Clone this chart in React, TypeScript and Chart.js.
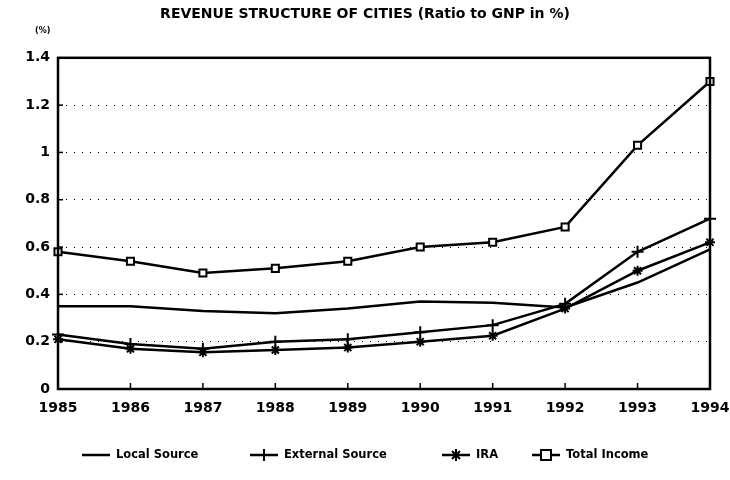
import React, { useEffect, useRef } from "react";
import { Chart, registerables } from "chart.js";

Chart.register(...registerables);

const years = ["1985", "1986", "1987", "1988", "1989", "1990", "1991", "1992", "1993", "1994"];
const localSource = [0.35, 0.35, 0.33, 0.32, 0.34, 0.37, 0.365, 0.345, 0.45, 0.59];
const externalSource = [0.23, 0.19, 0.17, 0.2, 0.21, 0.24, 0.27, 0.36, 0.58, 0.72];
const ira = [0.21, 0.17, 0.155, 0.165, 0.175, 0.2, 0.225, 0.34, 0.5, 0.62];
const totalIncome = [0.58, 0.54, 0.49, 0.51, 0.54, 0.6, 0.62, 0.685, 1.03, 1.3];
const yTicks = [0, 0.2, 0.4, 0.6, 0.8, 1, 1.2, 1.4];
const seriesNames = ["Local Source", "External Source", "IRA", "Total Income"];
const markerStyles: (string | false)[] = [false, "cross", "star", "rect"];

const FONT = "'DejaVu Sans', 'Liberation Sans', Arial, sans-serif";

function drawMarker(ctx: CanvasRenderingContext2D, style: string | false, x: number, y: number) {
  ctx.lineWidth = 2;
  if (style === "cross" || style === "star") {
    ctx.beginPath();
    ctx.moveTo(x, y - 6);
    ctx.lineTo(x, y + 6);
    ctx.stroke();
  }
  if (style === "star") {
    ctx.beginPath();
    ctx.moveTo(x - 4, y - 4);
    ctx.lineTo(x + 4, y + 4);
    ctx.moveTo(x + 4, y - 4);
    ctx.lineTo(x - 4, y + 4);
    ctx.stroke();
  }
  if (style === "rect") {
    ctx.fillStyle = "#fff";
    ctx.fillRect(x - 5, y - 5, 10, 10);
    ctx.strokeRect(x - 5, y - 5, 10, 10);
  }
}

const frame = {
  id: "frame",
  afterDraw(chart: any) {
    const { ctx, chartArea } = chart;
    const xs = chart.scales.x;
    const ys = chart.scales.y;
    ctx.save();
    ctx.strokeStyle = "#000";
    ctx.lineWidth = 2.5;
    ctx.strokeRect(chartArea.left, chartArea.top, chartArea.right - chartArea.left, chartArea.bottom - chartArea.top);
    ctx.lineWidth = 1.5;
    for (let i = 1; i < years.length - 1; i++) {
      const px = xs.getPixelForValue(i);
      ctx.beginPath();
      ctx.moveTo(px, chartArea.bottom);
      ctx.lineTo(px, chartArea.bottom - 6);
      ctx.stroke();
    }
    for (let i = 1; i < yTicks.length - 1; i++) {
      const py = ys.getPixelForValue(yTicks[i]);
      ctx.beginPath();
      ctx.moveTo(chartArea.left, py);
      ctx.lineTo(chartArea.left + 5, py);
      ctx.stroke();
    }
    ctx.fillStyle = "#000";
    ctx.font = "bold 8px " + FONT;
    ctx.textAlign = "left";
    ctx.textBaseline = "middle";
    ctx.fillText("(%)", chartArea.left - 23, chartArea.top - 27);

    // legend
    const legendX = [82, 250, 442, 532];
    const ly = 455;
    ctx.font = "bold 11.5px " + FONT;
    for (let i = 0; i < seriesNames.length; i++) {
      const x0 = legendX[i];
      ctx.strokeStyle = "#000";
      ctx.lineWidth = 2.5;
      ctx.beginPath();
      ctx.moveTo(x0, ly);
      ctx.lineTo(x0 + 28, ly);
      ctx.stroke();
      drawMarker(ctx, markerStyles[i], x0 + 14, ly);
      ctx.fillStyle = "#000";
      ctx.fillText(seriesNames[i], x0 + 34, ly);
    }
    ctx.restore();
  },
};

export default function App() {
  const ref = useRef<HTMLCanvasElement>(null);
  useEffect(() => {
    const seriesData = [localSource, externalSource, ira, totalIncome];
    const chart = new Chart(ref.current!, {
      type: "line",
      data: {
        labels: years,
        datasets: seriesNames.map((name, i) => ({
          label: name,
          data: seriesData[i],
          borderColor: "#000",
          backgroundColor: "#000",
          borderWidth: 2.5,
          pointBorderWidth: 2,
          pointStyle: (markerStyles[i] || false) as any,
          pointRadius: i === 0 ? 0 : i === 1 ? 6 : 5,
          pointBackgroundColor: i === 3 ? "#fff" : "#000",
          tension: 0,
        })),
      },
      options: {
        animation: false,
        responsive: true,
        maintainAspectRatio: false,
        layout: { padding: { left: 0, right: 0, top: 0, bottom: 0 } },
        plugins: {
          title: {
            display: true,
            text: "REVENUE STRUCTURE OF CITIES (Ratio to GNP in %)",
            color: "#000",
            font: { family: FONT, size: 14, weight: "bold" },
            padding: { top: 6, bottom: 35 },
          },
          legend: { display: false },
          tooltip: { enabled: false },
        },
        scales: {
          x: {
            offset: false,
            afterFit: (s: any) => {
              s.height = 91;
              s.paddingLeft = 0;
              s.paddingRight = 20;
            },
            grid: { display: false, drawTicks: false },
            border: { display: false },
            ticks: { color: "#000", font: { family: FONT, size: 14, weight: "bold" }, padding: 11, maxRotation: 0 },
          },
          y: {
            min: 0,
            max: 1.4,
            afterFit: (s: any) => {
              s.width = 58;
            },
            afterBuildTicks: (s: any) => {
              s.ticks = yTicks.map((v) => ({ value: v }));
            },
            grid: {
              color: (c: any) => (c.tick && (c.tick.value === 0 || c.tick.value === 1.4) ? "rgba(0,0,0,0)" : "#000"),
              lineWidth: 1,
              drawTicks: false,
            },
            border: { display: false, dash: [1, 7] },
            ticks: {
              color: "#000",
              font: { family: FONT, size: 14, weight: "bold" },
              padding: 8,
              callback: (v: any) => String(v),
            },
          },
        },
      },
      plugins: [frame],
    });
    return () => chart.destroy();
  }, []);
  return (
    <div style={{ position: "fixed", left: 0, top: 0, width: 730, height: 480, background: "#fff" }}>
      <canvas ref={ref} />
    </div>
  );
}
